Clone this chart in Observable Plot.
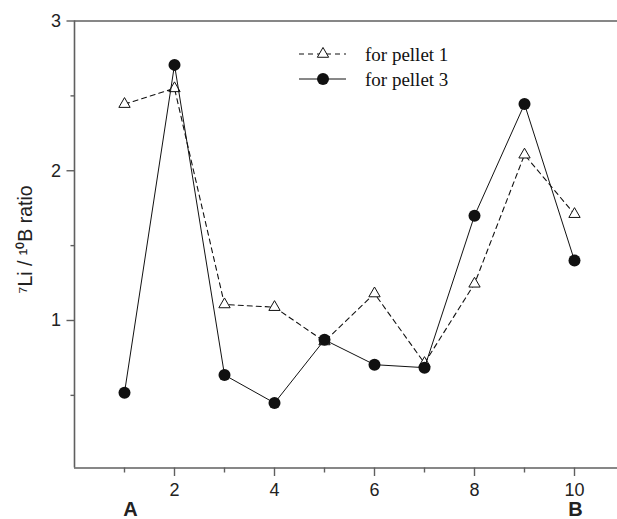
<!DOCTYPE html>
<html>
<head>
<meta charset="utf-8">
<script src="https://cdn.jsdelivr.net/npm/d3@7"></script>
<script src="https://cdn.jsdelivr.net/npm/@observablehq/plot@0.6"></script>
<style>
  html, body { margin: 0; padding: 0; background: white; }
  #chart { width: 617px; height: 519px; }
</style>
</head>
<body>
<div id="chart"></div>
<script>
// ---- data ----
const samples = [1, 2, 3, 4, 5, 6, 7, 8, 9, 10];
const pellet1 = [2.445, 2.55, 1.107, 1.089, 0.86, 1.18, 0.715, 1.245, 2.107, 1.71];
const pellet3 = [0.518, 2.707, 0.636, 0.449, 0.871, 0.705, 0.685, 1.70, 2.445, 1.40];
const seriesNames = ["for pellet 1", "for pellet 3"];
const xTicks = [2, 4, 6, 8, 10];
const xMinorTicks = [1, 3, 5, 7, 9];
const yTicks = [1, 2, 3];
const yMinorTicks = [0.5, 1.5, 2.5];
const endLabels = ["A", "B"];
const endPositions = [1, 10];
const yTitle = "\u2077Li / \u00B9\u2070B ratio";

// tables built from the arrays
const rows1 = samples.map((s, i) => ({x: s, y: pellet1[i]}));
const rows3 = samples.map((s, i) => ({x: s, y: pellet3[i]}));
const endRows = endLabels.map((l, i) => ({x: endPositions[i], label: l}));

const axisColor = "#5f5f5f";
const yMin = 0.015, yMax = 3;
const fmt = d => String(d);

const chart = Plot.plot({
  width: 617,
  height: 519,
  marginLeft: 74,
  marginRight: 0,
  marginTop: 20.5,
  marginBottom: 51.5,
  x: {domain: [0, 10.86], label: null},
  y: {domain: [yMin, yMax], label: null},
  style: {fontFamily: "'Liberation Sans', Arial, sans-serif", fontSize: "18px", color: "#222", background: "white"},
  marks: [
    // frame (left, top, bottom)
    Plot.ruleX([0], {stroke: axisColor, strokeWidth: 1.6}),
    Plot.ruleY([yMax, yMin], {stroke: axisColor, strokeWidth: 1.6}),
    // axes
    Plot.axisX(xTicks, {tickSize: 8.5, tickPadding: 7, tickFormat: fmt, stroke: axisColor, strokeWidth: 1.4, label: null, fontSize: 18}),
    Plot.axisX(xMinorTicks, {tickSize: 5, tickFormat: () => "", stroke: axisColor, strokeWidth: 1.4, label: null}),
    Plot.axisY(yTicks, {tickSize: 7.5, tickPadding: 6, tickFormat: fmt, stroke: axisColor, strokeWidth: 1.4, label: null, fontSize: 18}),
    Plot.axisY(yMinorTicks, {tickSize: 3.5, tickFormat: () => "", stroke: axisColor, strokeWidth: 1.4, label: null}),
    // y title
    Plot.text([yTitle], {frameAnchor: "left", textAnchor: "middle", lineAnchor: "middle", rotate: -90, dx: -49, dy: -5, fontSize: 19.5, fill: "#222"}),
    // A / B labels
    Plot.text([endRows[0]], {x: "x", text: "label", frameAnchor: "bottom", lineAnchor: "middle", dy: 41.5, dx: 6, fontWeight: "bold", fontSize: 20, fill: "#222"}),
    Plot.text([endRows[1]], {x: "x", text: "label", frameAnchor: "bottom", lineAnchor: "middle", dy: 41.5, dx: 1, fontWeight: "bold", fontSize: 20, fill: "#222"}),
    // pellet 1
    Plot.line(rows1, {x: "x", y: "y", stroke: "#111", strokeWidth: 1.1, strokeDasharray: "5,4"}),
    Plot.dot(rows1, {x: "x", y: "y", symbol: "triangle", r: 4.2, fill: "white", stroke: "#111", strokeWidth: 1}),
    // pellet 3
    Plot.line(rows3, {x: "x", y: "y", stroke: "#111", strokeWidth: 1}),
    Plot.dot(rows3, {x: "x", y: "y", symbol: "circle", r: 6, fill: "#111", stroke: "none"})
  ]
});

document.getElementById("chart").appendChild(chart);

// ---- legend (inside the plot area, drawn into the same SVG) ----
const svg = d3.select(chart.tagName.toLowerCase() === "svg" ? chart : chart.querySelector("svg"));
const lg = svg.append("g").attr("class", "legend").attr("text-anchor", "start");
const legendX0 = 299, legendX1 = 346, legendSym = 323, legendText = 365;
const legendY = [54, 79];
seriesNames.forEach((name, i) => {
  const y = legendY[i];
  lg.append("line")
    .attr("x1", legendX0).attr("x2", legendX1).attr("y1", y).attr("y2", y)
    .attr("stroke", "#111").attr("stroke-width", i === 0 ? 1.1 : 1)
    .attr("stroke-dasharray", i === 0 ? "5,4" : null);
  if (i === 0) {
    lg.append("path")
      .attr("d", d3.symbol(d3.symbolTriangle, Math.PI * 4.2 * 4.2)())
      .attr("transform", `translate(${legendSym},${y})`)
      .attr("fill", "white").attr("stroke", "#111").attr("stroke-width", 1);
  } else {
    lg.append("circle").attr("cx", legendSym).attr("cy", y).attr("r", 6).attr("fill", "#111");
  }
  lg.append("text")
    .attr("x", legendText).attr("y", y + 6.5)
    .style("text-anchor", "start")
    .style("font-family", "'Liberation Serif', 'Times New Roman', serif")
    .style("font-size", "19px")
    .style("fill", "#111")
    .text(name);
});
</script>
</body>
</html>
